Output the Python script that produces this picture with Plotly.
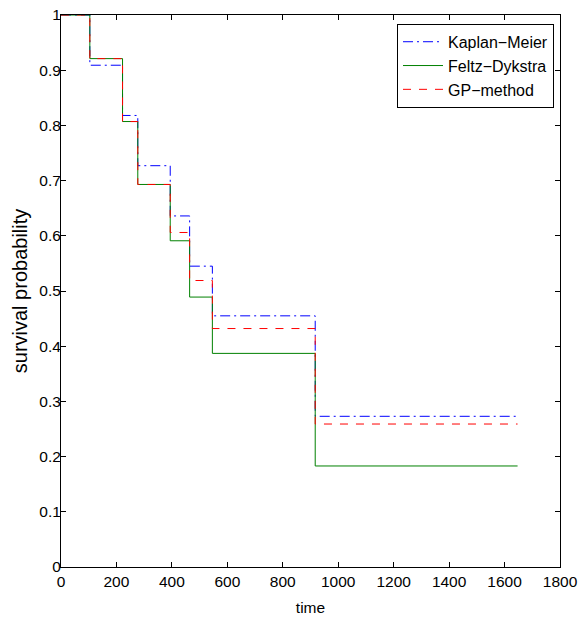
import plotly.graph_objects as go

# step times (event times) and end time
times = [0, 104, 222, 277, 394, 464, 546, 917, 1647]
km = [1.0, 0.909, 0.818, 0.727, 0.636, 0.545, 0.455, 0.273, 0.273]
fd = [1.0, 0.921, 0.807, 0.693, 0.591, 0.489, 0.387, 0.183, 0.183]
gp = [1.0, 0.921, 0.807, 0.693, 0.606, 0.519, 0.432, 0.259, 0.259]

series_names = ["Kaplan\u2212Meier", "Feltz\u2212Dykstra", "GP\u2212method"]

x_ticks = list(range(0, 1801, 200))
y_ticks = [i / 10 for i in range(11)]
y_tick_labels = ["0", "0.1", "0.2", "0.3", "0.4", "0.5", "0.6", "0.7", "0.8", "0.9", "1"]

fig = go.Figure()
fig.add_trace(go.Scatter(x=times, y=km, mode="lines", line_shape="hv",
                         name=series_names[0],
                         line=dict(color="#0000ff", width=1, dash="10px,4px,2px,4px")))
fig.add_trace(go.Scatter(x=times, y=fd, mode="lines", line_shape="hv",
                         name=series_names[1],
                         line=dict(color="#008000", width=1, dash="solid")))
fig.add_trace(go.Scatter(x=times, y=gp, mode="lines", line_shape="hv",
                         name=series_names[2],
                         line=dict(color="#ff0000", width=1, dash="8px,8px")))

font_family = "Liberation Sans, Arial, sans-serif"

fig.update_layout(
    width=580, height=626,
    margin=dict(l=61, r=20, t=15, b=59, autoexpand=False),
    paper_bgcolor="white", plot_bgcolor="white",
    font=dict(family=font_family, color="black", size=15.5),
    showlegend=True,
    legend=dict(x=0.988, y=0.984, xanchor="right", yanchor="top",
                bgcolor="white", bordercolor="black", borderwidth=1,
                font=dict(size=16, family=font_family),
                tracegroupgap=0, itemwidth=40),
    xaxis=dict(range=[0, 1800], tickvals=x_ticks, ticks="inside", ticklen=5,
               tickcolor="black", showline=True, linecolor="black", linewidth=1,
               mirror="ticks", showgrid=False, zeroline=False, automargin=False,
               title=dict(text="time", font=dict(size=15.5), standoff=13),
               tickfont=dict(size=15.5)),
    yaxis=dict(range=[0, 1], tickvals=y_ticks, ticktext=y_tick_labels,
               ticks="inside", ticklen=5, ticklabelstandoff=-4,
               tickcolor="black", showline=True, linecolor="black", linewidth=1,
               mirror="ticks", showgrid=False, zeroline=False, automargin=False,
               title=dict(text="survival probability", font=dict(size=20), standoff=6),
               tickfont=dict(size=15.5)),
)

fig.write_html("out.html", config={"displayModeBar": False},
               post_script="document.body.style.margin='0';")
